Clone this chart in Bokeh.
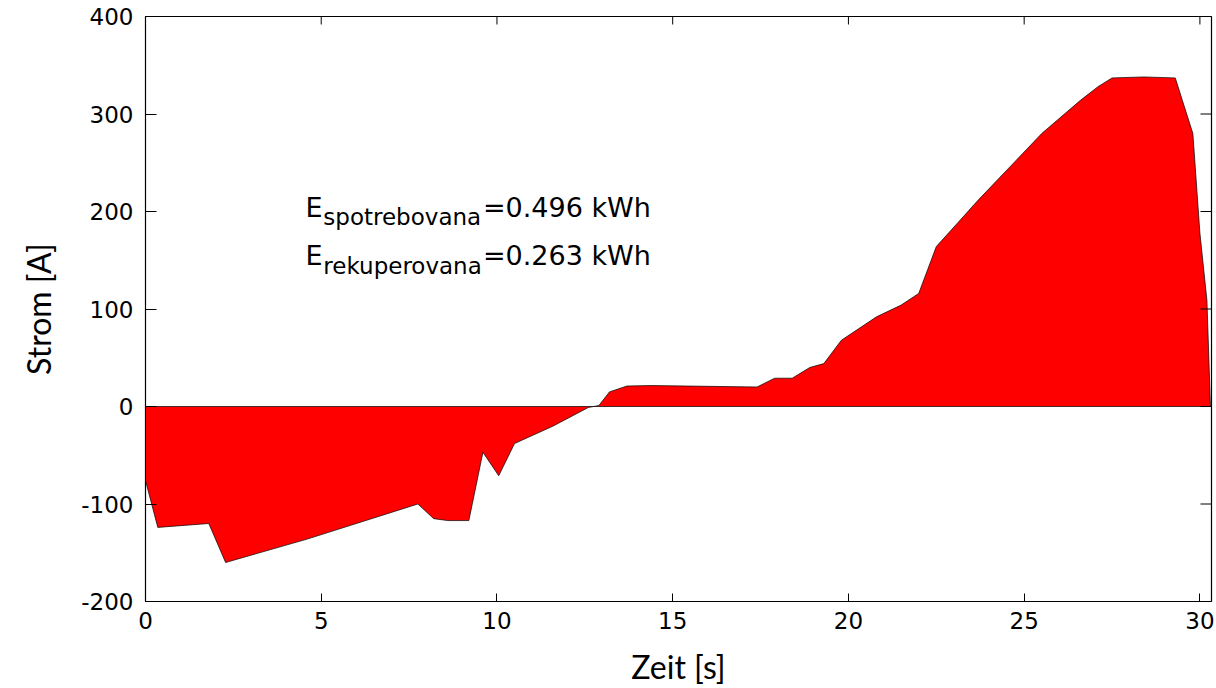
import math
from bokeh.plotting import figure
from bokeh.models import Range1d, Label, FixedTicker
from bokeh.embed import file_html
from bokeh.resources import INLINE

# Data (time in s, current in A)
zeit = [0, 0.35, 1.8, 2.28, 4.6, 7.75, 8.2, 8.6, 9.2, 9.6, 10.05, 10.5, 11.6,
        12.6, 12.9, 13.2, 13.7, 14.4, 17.4, 17.9, 18.4, 18.9, 19.3, 19.8, 20.8,
        21.5, 22.0, 22.5, 23.1, 23.7, 25.5, 26.6, 27.1, 27.5, 28.4, 29.3, 29.5,
        29.8, 30.0, 30.2, 30.3]
strom = [-76, -124, -120, -160, -136, -100, -115, -117, -117, -47, -71, -38, -20,
         -1, 1, 15, 21, 21.5, 20, 29, 29, 40, 44, 68, 92,
         104, 116, 164, 188, 212, 280, 314, 328, 337, 338, 337, 314,
         280, 178, 109, 0]
x_ticks = [0, 5, 10, 15, 20, 25, 30]
y_ticks = [-200, -100, 0, 100, 200, 300, 400]
y_tick_labels = ["-200", "-100", "0", "100", "200", "300", "400"]
energy_names = ["spotrebovana", "rekuperovana"]
energy_values = ["=0.496 kWh", "=0.263 kWh"]

X_MAX = 30.33
Y_MIN, Y_MAX = -200, 400
TICK_FONT = "DejaVu Sans"
LABEL_FONT = "Lato"

p = figure(width=1216, height=688,
           x_range=Range1d(0, X_MAX), y_range=Range1d(Y_MIN, Y_MAX),
           output_backend="svg", toolbar_location=None,
           min_border_left=145, min_border_right=5,
           min_border_top=16, min_border_bottom=87)

# area from baseline 0
px = [zeit[0]] + zeit + [zeit[-1]]
py = [0] + strom + [0]
p.patch(px, py, fill_color="#ff0000", line_color="black", line_width=0.7)

p.xgrid.visible = False
p.ygrid.visible = False
p.outline_line_color = "black"
p.outline_line_width = 1.2
p.background_fill_color = "white"

for ax, ticks, tin in ((p.xaxis[0], x_ticks, 8), (p.yaxis[0], y_ticks, 11)):
    ax.ticker = FixedTicker(ticks=ticks)
    ax.major_tick_in = tin
    ax.major_tick_out = 0
    ax.minor_tick_line_color = None
    ax.axis_line_color = "black"
    ax.major_tick_line_color = "black"
    ax.major_label_text_font = TICK_FONT
    ax.major_label_text_font_size = "23px"
    ax.major_label_text_color = "black"
    ax.axis_label_text_font = LABEL_FONT
    ax.axis_label_text_font_size = "32px"
    ax.axis_label_text_font_style = "normal"
    ax.axis_label_text_color = "black"

xa = p.xaxis[0]
xa.major_label_standoff = 10
xa.axis_label = "Zeit [s]"
xa.axis_label_standoff = 15

ya = p.yaxis[0]
ya.major_label_standoff = 12
ya.major_label_overrides = {t: s for t, s in zip(y_ticks, y_tick_labels)}
ya.axis_label = "Strom [A]"
ya.axis_label_standoff = 20

# inward tick marks on the top and right edges of the box
p.ray(x=x_ticks, y=[Y_MAX] * len(x_ticks), length=8, angle=-math.pi / 2,
      length_units="screen", line_color="black", line_width=1)
p.ray(x=[X_MAX] * len(y_ticks), y=y_ticks, length=11, angle=math.pi,
      length_units="screen", line_color="black", line_width=1)

# energy annotations with subscripts
rows = [(204, 194), (155, 144)]
for (base, subbase), name, val in zip(rows, energy_names, energy_values):
    p.add_layout(Label(x=4.55, y=base, text="E", text_font=TICK_FONT,
                       text_font_size="27px", text_baseline="alphabetic",
                       text_color="black"))
    p.add_layout(Label(x=5.06, y=subbase, text=name, text_font=TICK_FONT,
                       text_font_size="23px", text_baseline="alphabetic",
                       text_color="black"))
    p.add_layout(Label(x=9.6, y=base, text=val, text_font=TICK_FONT,
                       text_font_size="27px", text_baseline="alphabetic",
                       text_color="black"))

open("out.html", "w").write(file_html(p, INLINE))
